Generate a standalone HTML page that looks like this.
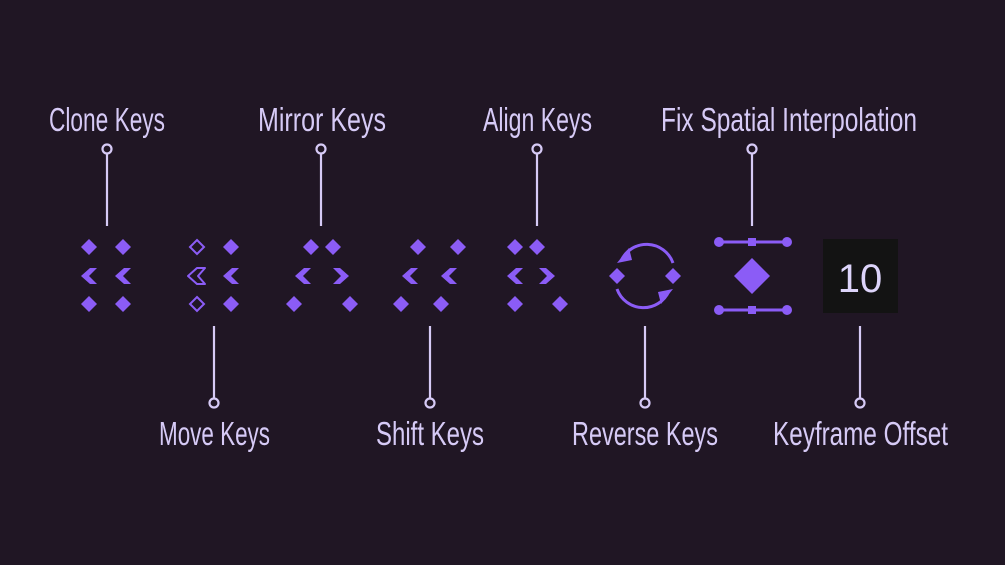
<!DOCTYPE html>
<html><head><meta charset="utf-8"><style>
html,body{margin:0;padding:0;background:#201624;}
svg{display:block}
text{font-family:"Liberation Sans Narrow","Liberation Sans",sans-serif;fill:#d6caf6;font-size:33px}
</style></head><body>
<svg width="1005" height="565" viewBox="0 0 1005 565" xmlns="http://www.w3.org/2000/svg">
<rect width="1005" height="565" fill="#201624"/>
<defs>
<polygon id="d" points="0,-8 8,0 0,8 -8,0" fill="#8b5cf6"/>
<polygon id="cl" points="-8,0 1,-8 8,-8 0,0 8,8 1,8" fill="#8b5cf6"/>
<polygon id="cr" points="8,0 -1,-8 -8,-8 0,0 -8,8 -1,8" fill="#8b5cf6"/>
</defs>
<!-- labels -->
<text x="49" y="131" textLength="116" lengthAdjust="spacingAndGlyphs">Clone Keys</text>
<text x="258" y="131" textLength="128" lengthAdjust="spacingAndGlyphs">Mirror Keys</text>
<text x="483" y="131" textLength="109" lengthAdjust="spacingAndGlyphs">Align Keys</text>
<text x="661" y="131" textLength="256" lengthAdjust="spacingAndGlyphs">Fix Spatial Interpolation</text>
<text x="159" y="445" textLength="111" lengthAdjust="spacingAndGlyphs">Move Keys</text>
<text x="376" y="445" textLength="108" lengthAdjust="spacingAndGlyphs">Shift Keys</text>
<text x="572" y="445" textLength="146" lengthAdjust="spacingAndGlyphs">Reverse Keys</text>
<text x="773" y="445" textLength="175" lengthAdjust="spacingAndGlyphs">Keyframe Offset</text>
<!-- connectors -->
<g stroke="#d6caf6" stroke-width="2.2" fill="#201624">
<line x1="107" y1="154" x2="107" y2="226"/><circle cx="107" cy="149" r="4.5"/>
<line x1="321" y1="154" x2="321" y2="226"/><circle cx="321" cy="149" r="4.5"/>
<line x1="537" y1="154" x2="537" y2="226"/><circle cx="537" cy="149" r="4.5"/>
<line x1="752" y1="154" x2="752" y2="226"/><circle cx="752" cy="149" r="4.5"/>
<line x1="214" y1="326" x2="214" y2="398"/><circle cx="214" cy="403" r="4.5"/>
<line x1="430" y1="326" x2="430" y2="398"/><circle cx="430" cy="403" r="4.5"/>
<line x1="645" y1="326" x2="645" y2="398"/><circle cx="645" cy="403" r="4.5"/>
<line x1="860" y1="326" x2="860" y2="398"/><circle cx="860" cy="403" r="4.5"/>
</g>
<!-- clone -->
<use href="#d" x="89" y="247"/><use href="#d" x="123" y="247"/>
<use href="#cl" x="89" y="276"/><use href="#cl" x="123" y="276"/>
<use href="#d" x="89" y="304"/><use href="#d" x="123" y="304"/>
<!-- move -->
<polygon points="197,240 204,247 197,254 190,247" fill="none" stroke="#8b5cf6" stroke-width="2"/>
<polygon points="197,297 204,304 197,311 190,304" fill="none" stroke="#8b5cf6" stroke-width="2"/>
<polygon points="188,276 197,268 205,268 198,276 205,284 197,284" fill="none" stroke="#8b5cf6" stroke-width="2" stroke-linejoin="round"/>
<use href="#d" x="231" y="247"/><use href="#cl" x="231" y="276"/><use href="#d" x="231" y="304"/>
<!-- mirror -->
<use href="#d" x="311" y="247"/><use href="#d" x="333" y="247"/>
<use href="#cl" x="303" y="276"/><use href="#cr" x="341" y="276"/>
<use href="#d" x="294" y="304"/><use href="#d" x="350" y="304"/>
<!-- shift -->
<use href="#d" x="418" y="247"/><use href="#d" x="458" y="247"/>
<use href="#cl" x="410" y="276"/><use href="#cl" x="449" y="276"/>
<use href="#d" x="401" y="304"/><use href="#d" x="441" y="304"/>
<!-- align -->
<use href="#d" x="515" y="247"/><use href="#d" x="537" y="247"/>
<use href="#cl" x="515" y="276"/><use href="#cr" x="547" y="276"/>
<use href="#d" x="515" y="304"/><use href="#d" x="560" y="304"/>
<!-- reverse -->
<use href="#d" x="617" y="276"/><use href="#d" x="673" y="276"/>
<g fill="none" stroke="#8b5cf6" stroke-width="3">
<path d="M673,263 A28,28 0 0 0 621,261"/>
<path d="M617,289 A28,28 0 0 0 669,291"/>
</g>
<polygon points="617,263 629,248 632,260" fill="#8b5cf6"/>
<polygon points="673,289 661,304 658,292" fill="#8b5cf6"/>
<!-- fix spatial -->
<g stroke="#8b5cf6" stroke-width="3" fill="#8b5cf6">
<line x1="719" y1="242" x2="786" y2="242"/><line x1="719" y1="310" x2="786" y2="310"/>
</g>
<g fill="#8b5cf6">
<circle cx="719" cy="242" r="5"/><circle cx="787" cy="242" r="5"/>
<circle cx="719" cy="310" r="5"/><circle cx="787" cy="310" r="5"/>
<rect x="748" y="238" width="8" height="8"/><rect x="748" y="306" width="8" height="8"/>
<polygon points="752,258 770,276 752,294 734,276"/>
</g>
<!-- offset box -->
<rect x="823" y="239" width="75" height="74" fill="#131313"/>
<text x="860" y="292" text-anchor="middle" style="font-family:'Liberation Sans',sans-serif;font-size:40px;fill:#ddd4fa">10</text>
</svg>
</body></html>
